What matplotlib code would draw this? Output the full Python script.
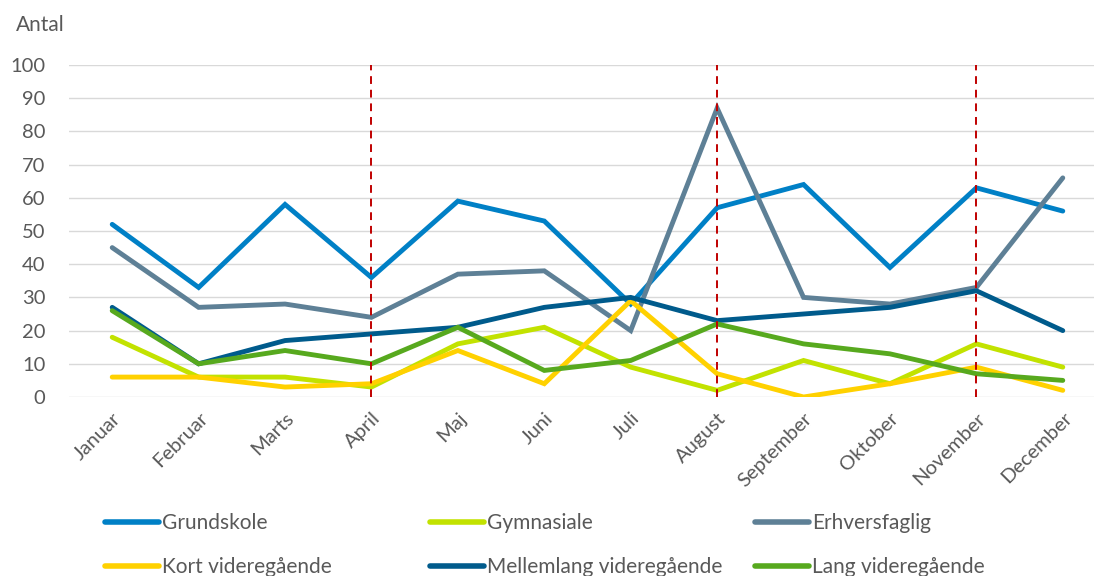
import numpy as np
import matplotlib
matplotlib.use("Agg")
import matplotlib.pyplot as plt

#---------------------------------------------------
#-----------------------data------------------------
#---------------------------------------------------
months = ["Januar", "Februar", "Marts", "April", "Maj", "Juni", "Juli",
          "August", "September", "Oktober", "November", "December"]

grundskole = [52, 33, 58, 36, 59, 53, 28, 57, 64, 39, 63, 56]
gymnasiale = [18, 6, 6, 3, 16, 21, 9, 2, 11, 4, 16, 9]
erhversfaglig = [45, 27, 28, 24, 37, 38, 20, 87, 30, 28, 33, 66]
kort_vid = [6, 6, 3, 4, 14, 4, 29, 7, 0, 4, 9, 2]
mellemlang_vid = [27, 10, 17, 19, 21, 27, 30, 23, 25, 27, 32, 20]
lang_vid = [26, 10, 14, 10, 21, 8, 11, 22, 16, 13, 7, 5]

marker_months = ["April", "August", "November"]
y_ticks = list(range(0, 101, 10))

#---------------------------------------------------
#----------------------styles-----------------------
#---------------------------------------------------
series = [
    ("Grundskole", grundskole, "#0080C6"),
    ("Gymnasiale", gymnasiale, "#C2E200"),
    ("Erhversfaglig", erhversfaglig, "#5E8096"),
    ("Kort videregående", kort_vid, "#FFD100"),
    ("Mellemlang videregående", mellemlang_vid, "#005B8C"),
    ("Lang videregående", lang_vid, "#57A91E"),
]
TEXT_COLOR = "#595959"
FS = 14.5
plt.rcParams['font.family'] = ['Lato', 'DejaVu Sans']

W, H = 1094, 576
fig = plt.figure(figsize=(W / 100, H / 100), dpi=100)
ax = fig.add_axes([69 / W, (H - 397) / H, 1037 / W, 332 / H])

x = np.arange(len(months))
lines = {}
for name, vals, col in series:
    ln, = ax.plot(x, vals, color=col, lw=3.5, solid_capstyle='round',
                  solid_joinstyle='miter', zorder=3)
    lines[name] = ln

# red dashed markers
for m in marker_months:
    ax.axvline(months.index(m), color="#C00000", lw=1.4,
               linestyle=(0, (4, 3)), zorder=4)

ax.set_xlim(-0.5, len(months) - 0.5)
ax.set_ylim(0, 100)
ax.set_yticks(y_ticks)
ax.set_xticks(x)
ax.set_xticklabels(months, rotation=45, ha='right', rotation_mode='anchor')
ax.tick_params(axis='both', length=0, labelsize=FS, labelcolor=TEXT_COLOR)
ax.tick_params(axis='y', pad=17)
ax.tick_params(axis='x', pad=9)
ax.grid(axis='y', color="#D9D9D9", lw=1.0, zorder=0)
for s in ax.spines.values():
    s.set_visible(False)

fig.text(16 / W, 1 - 25 / H, "Antal", fontsize=FS + 0.5, color=TEXT_COLOR,
         va='center', ha='left')

#-----------LEGEND-------------------
# three equally spaced columns like Excel
cols = [("Grundskole", "Kort videregående"),
        ("Gymnasiale", "Mellemlang videregående"),
        ("Erhversfaglig", "Lang videregående")]
col_x = [105, 430, 755]
for cx, names in zip(col_x, cols):
    leg = fig.legend([lines[n] for n in names], list(names),
                     loc='upper left', bbox_to_anchor=(cx / W, 1 - 513 / H),
                     frameon=False, borderpad=0, borderaxespad=0,
                     handlelength=2.6, handletextpad=0.15, labelspacing=1.15,
                     fontsize=FS + 0.5, labelcolor=TEXT_COLOR)
    for h in leg.legend_handles:
        h.set_linewidth(4.0)

fig.savefig("out.png", dpi=100)
